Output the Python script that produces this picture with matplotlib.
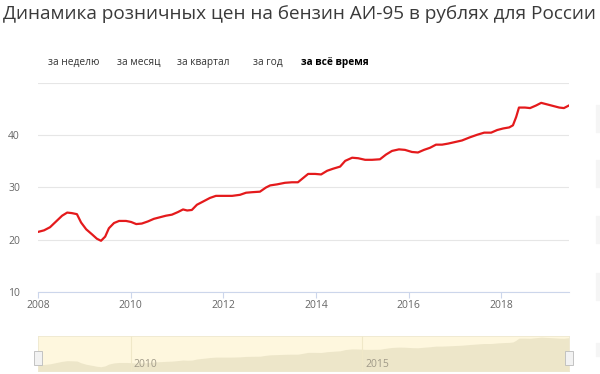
import matplotlib
matplotlib.use("Agg")
import matplotlib.pyplot as plt
from matplotlib.patches import Rectangle

plt.rcParams['font.family'] = ['Open Sans', 'DejaVu Sans']

title = "Динамика розничных цен на бензин АИ-95 в рублях для России"
buttons = ["за неделю", "за месяц", "за квартал", "за год", "за всё время"]
button_x = [48, 117, 177, 253, 301]   # left edge, px
active_button = "за всё время"

# decimal year, price in rubles
years = [2008.00, 2008.13, 2008.26, 2008.39, 2008.52, 2008.63, 2008.73, 2008.84,
         2008.93, 2009.04, 2009.17, 2009.27, 2009.36, 2009.45, 2009.53, 2009.64,
         2009.75, 2009.90, 2010.01, 2010.12, 2010.24, 2010.37, 2010.50, 2010.63,
         2010.76, 2010.89, 2011.02, 2011.13, 2011.22, 2011.32, 2011.43, 2011.56,
         2011.71, 2011.84, 2012.01, 2012.19, 2012.36, 2012.49, 2012.62, 2012.79,
         2012.92, 2013.01, 2013.16, 2013.33, 2013.48, 2013.61, 2013.72, 2013.83,
         2013.98, 2014.11, 2014.24, 2014.37, 2014.52, 2014.63, 2014.78, 2014.91,
         2015.06, 2015.21, 2015.38, 2015.51, 2015.64, 2015.79, 2015.92, 2016.07,
         2016.20, 2016.33, 2016.46, 2016.59, 2016.72, 2016.85, 2017.00, 2017.15,
         2017.32, 2017.48, 2017.63, 2017.78, 2017.91, 2018.04, 2018.17, 2018.25,
         2018.32, 2018.38, 2018.51, 2018.62, 2018.75, 2018.86, 2018.99, 2019.12,
         2019.25, 2019.35, 2019.46]
price = [21.5, 21.8, 22.4, 23.5, 24.6, 25.2, 25.1, 24.9,
         23.3, 22.0, 21.0, 20.2, 19.8, 20.6, 22.2, 23.2,
         23.6, 23.6, 23.4, 23.0, 23.1, 23.5, 24.0, 24.3,
         24.6, 24.8, 25.3, 25.8, 25.6, 25.7, 26.7, 27.3,
         28.0, 28.4, 28.4, 28.4, 28.6, 29.0, 29.1, 29.2,
         30.0, 30.4, 30.6, 30.9, 31.0, 31.0, 31.8, 32.6,
         32.6, 32.5, 33.2, 33.6, 34.0, 35.1, 35.7, 35.6,
         35.3, 35.3, 35.4, 36.3, 37.0, 37.3, 37.2, 36.8,
         36.7, 37.2, 37.6, 38.2, 38.2, 38.4, 38.7, 39.0,
         39.6, 40.1, 40.5, 40.5, 41.0, 41.3, 41.5, 41.9,
         43.5, 45.3, 45.3, 45.2, 45.7, 46.2, 45.9, 45.6,
         45.3, 45.2, 45.7]

x_ticks = [2008, 2010, 2012, 2014, 2016, 2018]
y_ticks = [10, 20, 30, 40, 50]
nav_ticks = [2010, 2015]

W, H = 600, 374
fig = plt.figure(figsize=(W / 100, H / 100), dpi=100)

def fx(px):
    return px / W

def fy(py):
    return 1 - py / H

# title + range buttons
fig.text(fx(3), fy(14), title, fontsize=13.7, color="#3a3a3a", va="center", ha="left")
for label, bx in zip(buttons, button_x):
    bold = label == active_button
    fig.text(fx(bx), fy(62), label, fontsize=7.3, va="center", ha="left",
             color="#000000" if bold else "#333333",
             fontweight="bold" if bold else "normal")

# faint boxes cut off at the right edge
for top, bot in [(105, 132), (160, 187), (216, 243), (273, 300), (343, 356)]:
    fig.patches.append(Rectangle((fx(596), fy(bot)), fx(10), (bot - top) / H,
                                 transform=fig.transFigure, color="#f5f5f5", zorder=0))

# main chart
ax = fig.add_axes([fx(38), fy(292), fx(569 - 38), (292 - 83) / H])
ax.plot(years, price, color="#e41a1c", linewidth=1.6, solid_joinstyle="round")
ax.set_xlim(2008, 2019.46)
ax.set_ylim(10, 50)
ax.set_xticks(x_ticks)
ax.set_xticklabels([str(t) for t in x_ticks])
ax.set_yticks(y_ticks)
ax.set_yticklabels([str(t) if t < 50 else "" for t in y_ticks])
ax.grid(axis="y", color="#e6e6e6", linewidth=0.8)
ax.set_axisbelow(True)
for s in ["top", "right", "left"]:
    ax.spines[s].set_visible(False)
ax.spines["bottom"].set_color("#ccd6eb")
ax.spines["bottom"].set_linewidth(0.8)
ax.tick_params(axis="x", colors="#ccd6eb", length=4, width=0.8, labelcolor="#666666",
               labelsize=7.5, pad=2)
ax.tick_params(axis="y", length=0, labelcolor="#666666", labelsize=7.5, pad=13)

# navigator
nav = fig.add_axes([fx(38), fy(371), fx(569 - 38), (371 - 336) / H])
nav.set_facecolor("#fef7de")
nav.fill_between(years, price, 0, color="#ede6c9", linewidth=0)
nav.set_xlim(2008, 2019.46)
nav.set_ylim(16, 47.2)
nav.set_yticks([])
nav.set_xticks(nav_ticks)
nav.set_xticklabels([])
nav.tick_params(length=0)
nav.grid(axis="x", color="#f0e8c8", linewidth=0.8)
for s in nav.spines.values():
    s.set_color("#eee8d0")
    s.set_linewidth(0.6)
for t in nav_ticks:
    nav.text(t + 0.06, 22, str(t), fontsize=7.5, color="#a09a88", va="center", ha="left")

# scroll handles
for hx in [2008, 2019.46]:
    nav.add_patch(Rectangle((hx - 0.08, 21), 0.16, 13, facecolor="#f2f2f2",
                            edgecolor="#bbbbbb", linewidth=0.6, clip_on=False, zorder=5))

fig.savefig("out.png", dpi=100)
